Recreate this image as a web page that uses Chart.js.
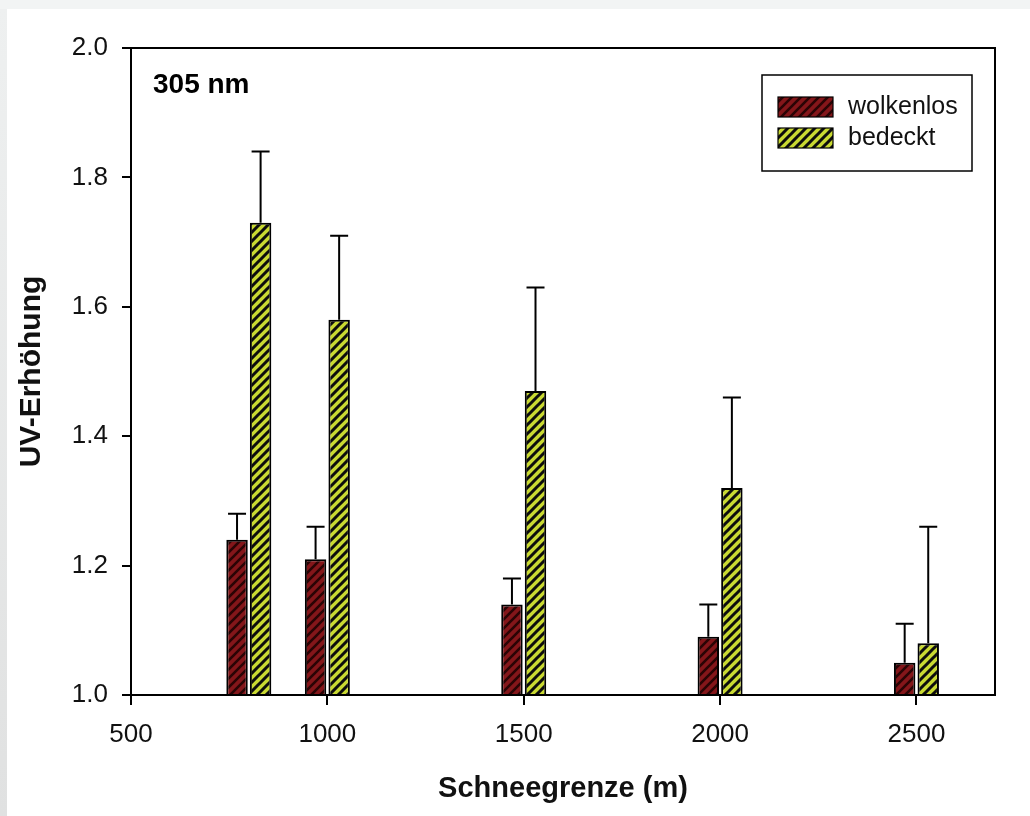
<!DOCTYPE html>
<html>
<head>
<meta charset="utf-8">
<script src="https://cdn.jsdelivr.net/npm/chart.js@4/dist/chart.umd.min.js"></script>
<style>
  html, body { margin: 0; padding: 0; }
  body { width: 1030px; height: 816px; background: #f2f4f4; position: relative; overflow: hidden; }
  #strip { position: absolute; left: 0; top: 9px; width: 7px; height: 807px; background: linear-gradient(#eef0f0, #e0e1e1); }
  #chart { position: absolute; left: 7px; top: 9px; background: #fff; }
</style>
</head>
<body>
<div id="strip"></div>
<canvas id="chart" width="1023" height="807"></canvas>
<script>
// ===== Data =====
const heights = [800, 1000, 1500, 2000, 2500];          // Schneegrenze (m)
const wolkenlos = [1.24, 1.21, 1.14, 1.09, 1.05];
const wolkenlosErr = [1.28, 1.26, 1.18, 1.14, 1.11];    // upper end of error bar
const bedeckt = [1.73, 1.58, 1.47, 1.32, 1.08];
const bedecktErr = [1.84, 1.71, 1.63, 1.46, 1.26];
const xTicks = [500, 1000, 1500, 2000, 2500];
const yTicks = [1.0, 1.2, 1.4, 1.6, 1.8, 2.0];
const seriesNames = ["wolkenlos", "bedeckt"];
const panelLabel = "305 nm";

const FONT = "'Liberation Sans', Arial, Helvetica, sans-serif";

// ===== Hatch patterns =====
function makeHatch(bg, stripe, width) {
  const n = 9;
  const c = document.createElement("canvas");
  c.width = n; c.height = n;
  const g = c.getContext("2d");
  g.fillStyle = bg;
  g.fillRect(0, 0, n, n);
  g.strokeStyle = stripe;
  g.lineWidth = width;
  g.beginPath();
  g.moveTo(-2, n + 2); g.lineTo(n + 2, -2);
  g.moveTo(-2, 2); g.lineTo(2, -2);
  g.moveTo(n - 2, n + 2); g.lineTo(n + 2, n - 2);
  g.stroke();
  return g.createPattern(c, "repeat");
}

const redHatch = makeHatch("#84161a", "#2a0405", 2.6);
const greenHatch = makeHatch("#c9d932", "#0d0d0d", 3);
const errors = [wolkenlosErr, bedecktErr];

// ===== Plugins =====
const errorBars = {
  id: "errorBars",
  afterDatasetsDraw(chart) {
    const ctx = chart.ctx;
    const y = chart.scales.y;
    ctx.save();
    ctx.strokeStyle = "#000";
    ctx.lineWidth = 2;
    chart.data.datasets.forEach((ds, i) => {
      const meta = chart.getDatasetMeta(i);
      meta.data.forEach((bar, j) => {
        const top = y.getPixelForValue(errors[i][j]);
        ctx.beginPath();
        ctx.moveTo(bar.x, bar.y);
        ctx.lineTo(bar.x, top);
        ctx.moveTo(bar.x - 9, top);
        ctx.lineTo(bar.x + 9, top);
        ctx.stroke();
      });
    });
    ctx.restore();
  }
};

const frameAndLegend = {
  id: "frameAndLegend",
  afterDraw(chart) {
    const ctx = chart.ctx;
    const a = chart.chartArea;
    ctx.save();
    // plot frame
    ctx.strokeStyle = "#000";
    ctx.lineWidth = 2;
    ctx.strokeRect(a.left, a.top, a.right - a.left, a.bottom - a.top);

    // panel label
    ctx.fillStyle = "#000";
    ctx.font = "bold 28px " + FONT;
    ctx.textAlign = "left";
    ctx.textBaseline = "alphabetic";
    ctx.fillText(panelLabel, a.left + 22, a.top + 45);

    // legend box
    const bx = a.right - 233, by = a.top + 27;
    ctx.lineWidth = 1.5;
    ctx.strokeRect(bx, by, 210, 96);
    const fills = [redHatch, greenHatch];
    const rows = [by + 22, by + 53];
    ctx.font = "25px " + FONT;
    ctx.textBaseline = "middle";
    seriesNames.forEach((name, i) => {
      ctx.fillStyle = fills[i];
      ctx.fillRect(bx + 16, rows[i], 55, 20);
      ctx.lineWidth = 1.2;
      ctx.strokeRect(bx + 16, rows[i], 55, 20);
      ctx.fillStyle = "#111";
      ctx.fillText(name, bx + 86, rows[i] + 10);
    });
    ctx.restore();
  }
};

// ===== Chart =====
Chart.defaults.font.family = FONT;
Chart.defaults.color = "#111";

new Chart(document.getElementById("chart"), {
  type: "bar",
  data: {
    datasets: [
      {
        label: seriesNames[0],
        data: heights.map((h, i) => ({ x: h, y: wolkenlos[i] })),
        backgroundColor: redHatch,
        borderColor: "#000",
        borderWidth: 2
      },
      {
        label: seriesNames[1],
        data: heights.map((h, i) => ({ x: h, y: bedeckt[i] })),
        backgroundColor: greenHatch,
        borderColor: "#000",
        borderWidth: 2
      }
    ]
  },
  options: {
    responsive: false,
    animation: false,
    devicePixelRatio: 1,
    categoryPercentage: 0.6,
    barPercentage: 0.91,
    layout: { padding: { top: 39, right: 35, left: 0, bottom: 0 } },
    plugins: {
      legend: { display: false },
      tooltip: { enabled: false }
    },
    scales: {
      x: {
        type: "linear",
        offset: false,
        min: 500,
        max: 2700,
        afterBuildTicks: s => { s.ticks = xTicks.map(v => ({ value: v })); },
        afterFit: s => { s.height = 121; },
        grid: { offset: false, drawOnChartArea: false, color: "#000", lineWidth: 2, tickLength: 10 },
        border: { color: "#000", width: 2 },
        ticks: { font: { size: 26 }, padding: 14, maxRotation: 0, callback: v => String(v) },
        title: { display: true, text: "Schneegrenze (m)", font: { size: 29, weight: "bold" }, padding: { top: 0, bottom: 10 } }
      },
      y: {
        min: 1.0,
        max: 2.0,
        afterBuildTicks: s => { s.ticks = yTicks.map(v => ({ value: v })); },
        afterFit: s => { s.width = 124; },
        grid: { drawOnChartArea: false, color: "#000", lineWidth: 2, tickLength: 9 },
        border: { color: "#000", width: 2 },
        ticks: { font: { size: 26 }, padding: 14, callback: v => v.toFixed(1) },
        title: { display: true, text: "UV-Erhöhung", font: { size: 30, weight: "bold" }, padding: { top: 7, bottom: 0 } }
      }
    }
  },
  plugins: [errorBars, frameAndLegend]
});
</script>
</body>
</html>
